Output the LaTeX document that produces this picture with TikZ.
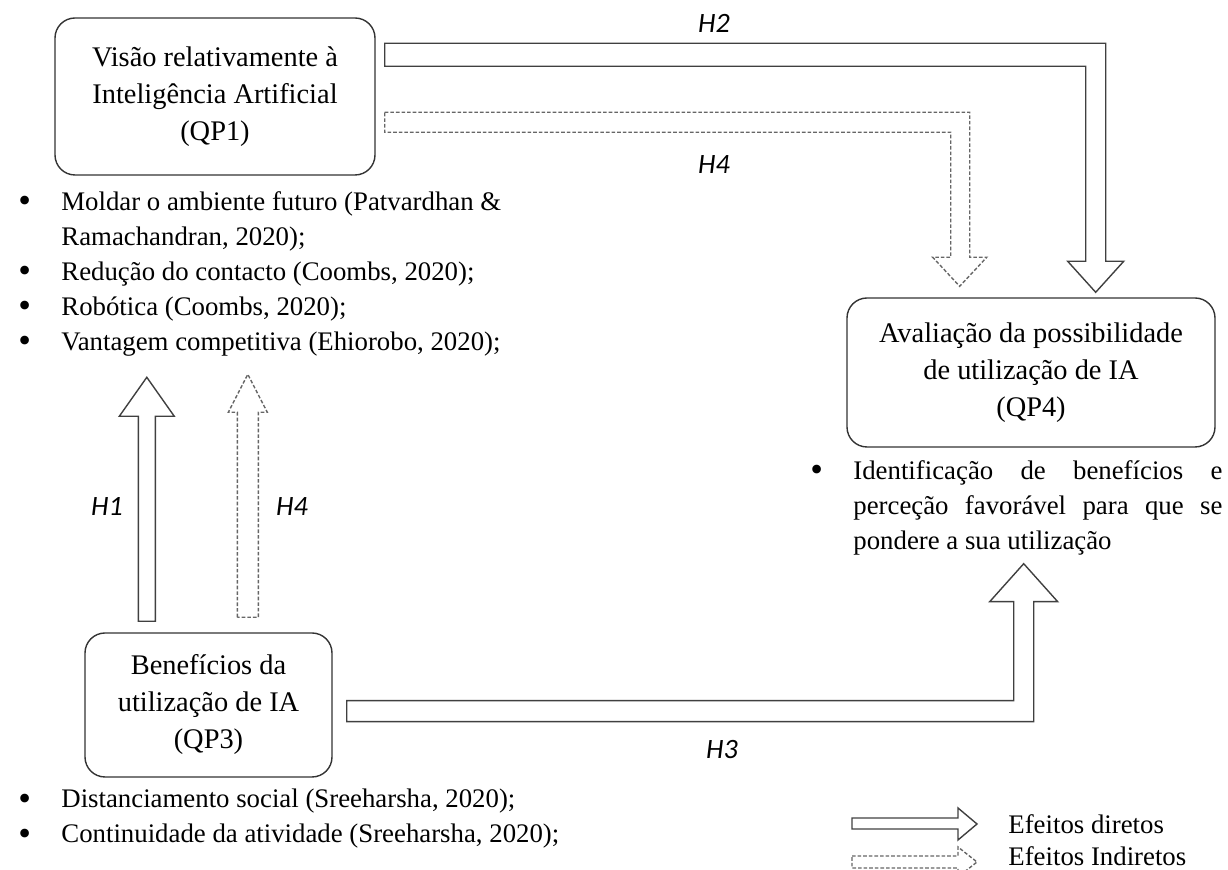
\documentclass[tikz,border=0pt]{standalone}
\usepackage{fontspec}
\usepackage{graphicx}
\setmainfont{Liberation Serif}
\newfontfamily\hfont{Carlito}
\usetikzlibrary{calc}
\newcommand{\bul}{\llap{\makebox[21.5pt][l]{\raisebox{-0.2ex}{\scalebox{1.35}{\textbullet}}}}}

\begin{document}
\begin{tikzpicture}[
      x=0.5pt, y=-0.5pt,
      qbox/.style={draw=black!80, line width=0.7pt, rounded corners=10pt, align=center, inner sep=0pt, font=\fontsize{14.2}{18.5}\selectfont},
      blist/.style={anchor=north west, inner sep=0pt, align=left, font=\fontsize{13.4}{17.5}\selectfont},
      legtext/.style={anchor=west, inner sep=0pt, font=\fontsize{13.4}{16}\selectfont},
      hlabel/.style={inner sep=0pt, font=\hfont\itshape\fontsize{14}{16}\selectfont},
      direct/.style={draw=black!75, line width=0.7pt, line join=miter},
      indirect/.style={draw=black!60, line width=0.7pt, line join=miter, dash pattern=on 1.8pt off 1pt},
]
\useasboundingbox (0,0) rectangle (1228,870);

% question boxes
\node[qbox, minimum width=160pt, minimum height=78.5pt] (qp1) at (215,96.5) {Visão relativamente à\\Inteligência Artificial\\(QP1)};
\node[qbox, minimum width=184pt, minimum height=74.5pt] (qp4) at (1031,372.5) {Avaliação da possibilidade\\de utilização de IA\\(QP4)};
\node[qbox, minimum width=123.5pt, minimum height=72pt] (qp3) at (208.5,705) {Benefícios da\\utilização de IA\\(QP3)};

% bullet lists
\node[blist] (list1) at (61,191) {\bul Moldar o ambiente futuro (Patvardhan \&\\Ramachandran, 2020);\\\bul Redução do contacto (Coombs, 2020);\\\bul Robótica (Coombs, 2020);\\\bul Vantagem competitiva (Ehiorobo, 2020);};
\node[blist] (list4) at (853,460) {\bul\makebox[184.5pt][s]{Identificação de benefícios e}\\\makebox[184.5pt][s]{perceção favorável para que se}\\pondere a sua utilização};
\node[blist] (list3) at (61,789) {\bul Distanciamento social (Sreeharsha, 2020);\\\bul Continuidade da atividade (Sreeharsha, 2020);};

% H2: QP1 -> QP4
\draw[direct] ($(qp1.north east)+(9,26)$) -- ++(721,0) -- ++(0,218) -- ++(18,0) -- ++(-28,31)
      -- ++(-28,-31) -- ++(18,0) -- ++(0,-195) -- ++(-701,0) -- cycle;
% H4: QP1 -> QP4 (indirect)
\draw[indirect] ($(qp1.north east)+(9,95)$) -- ++(585,0) -- ++(0,145) -- ++(17,0) -- ++(-27,29)
      -- ++(-27,-29) -- ++(18,0) -- ++(0,-125) -- ++(-566,0) -- cycle;
% H3: QP3 -> QP4
\draw[direct] ($(qp3.south east)+(14,-56)$) -- ++(687,0) -- ++(0,-120) -- ++(24,0) -- ++(-34,-38)
      -- ++(-34,38) -- ++(24,0) -- ++(0,99) -- ++(-667,0) -- cycle;
% H1: QP3 -> QP1
\draw[direct] ($(qp3.north west)+(54,-11)$) -- ++(0,-205) -- ++(-19,0) -- ++(27.5,-39)
      -- ++(27.5,39) -- ++(-19,0) -- ++(0,205) -- cycle;
% H4: QP3 -> QP1 (indirect)
\draw[indirect] ($(qp3.north west)+(153,-15)$) -- ++(0,-205) -- ++(-9,0) -- ++(19.5,-38)
      -- ++(19.5,38) -- ++(-9,0) -- ++(0,205) -- cycle;

% hypothesis labels
\node[hlabel] (h2) at (714,23) {H2};
\node[hlabel] (h4a) at (714,165) {H4};
\node[hlabel] (h1) at (107,507) {H1};
\node[hlabel] (h4b) at (292,507) {H4};
\node[hlabel] (h3) at (722,750) {H3};

% legend
\node[legtext] (leg1) at (1008,824) {Efeitos diretos};
\node[legtext] (leg2) at (1008,856) {Efeitos Indiretos};
\draw[direct] ($(leg1.west)+(-156,-6)$) -- ++(106,0) -- ++(0,-10) -- ++(19,16) -- ++(-19,16)
      -- ++(0,-11) -- ++(-106,0) -- cycle;
\draw[indirect] ($(leg2.west)+(-156,0)$) -- ++(106,0) -- ++(0,-9) -- ++(19,15) -- ++(-19,15)
      -- ++(0,-9) -- ++(-106,0) -- cycle;

\end{tikzpicture}
\end{document}
